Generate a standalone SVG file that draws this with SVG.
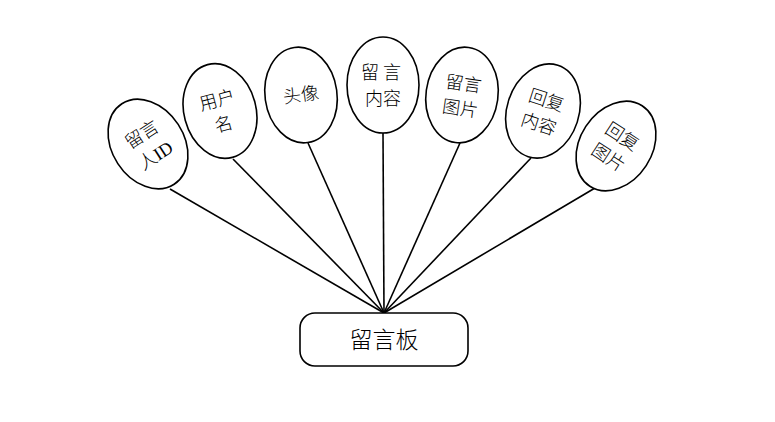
<svg xmlns="http://www.w3.org/2000/svg" width="775" height="422" viewBox="0 0 775 422">
<style>
.n ellipse{fill:#fff;stroke:#000;stroke-width:1.6}
.n text,.b text{font-family:"Liberation Serif","Noto Sans CJK SC",serif;font-size:18px;font-weight:300;fill:#000;text-anchor:middle;dominant-baseline:central}
.b rect{fill:#fff;stroke:#000;stroke-width:1.6}
.c line{stroke:#000;stroke-width:1.6}
</style>
<rect width="775" height="422" fill="#fff"/>
<g class="c" id="connectors">
<line x1="170" y1="189" x2="384" y2="313"/>
<line x1="233" y1="159" x2="384" y2="313"/>
<line x1="308" y1="143" x2="384" y2="313"/>
<line x1="383" y1="133" x2="384" y2="313"/>
<line x1="460" y1="143" x2="384" y2="313"/>
<line x1="531" y1="158" x2="384" y2="313"/>
<line x1="595" y1="188" x2="384" y2="313"/>
</g>
<g class="n" id="n1" transform="translate(148,144) rotate(-33)">
<ellipse rx="36" ry="48"/><text y="-11">留言</text><text y="14">人ID</text>
</g>
<g class="n" id="n2" transform="translate(220,111) rotate(-15)">
<ellipse rx="36" ry="48"/><text y="-11">用户</text><text y="14">名</text>
</g>
<g class="n" id="n3" transform="translate(301,95) rotate(-8)">
<ellipse rx="36" ry="48"/><text y="0">头像</text>
</g>
<g class="n" id="n4" transform="translate(383,85)">
<ellipse rx="36" ry="48"/><text y="-12" letter-spacing="4">留言</text><text y="14">内容</text>
</g>
<g class="n" id="n5" transform="translate(462,95) rotate(8)">
<ellipse rx="36" ry="48"/><text y="-11">留言</text><text y="14">图片</text>
</g>
<g class="n" id="n6" transform="translate(543,111) rotate(18)">
<ellipse rx="36" ry="48"/><text y="-11">回复</text><text y="14">内容</text>
</g>
<g class="n" id="n7" transform="translate(616,146) rotate(33)">
<ellipse rx="36" ry="48"/><text y="-11">回复</text><text y="14">图片</text>
</g>
<g class="b" id="board">
<rect x="300" y="313" width="168" height="53" rx="15"/>
<text x="384" y="340" style="font-size:23px">留言板</text>
</g>
</svg>
